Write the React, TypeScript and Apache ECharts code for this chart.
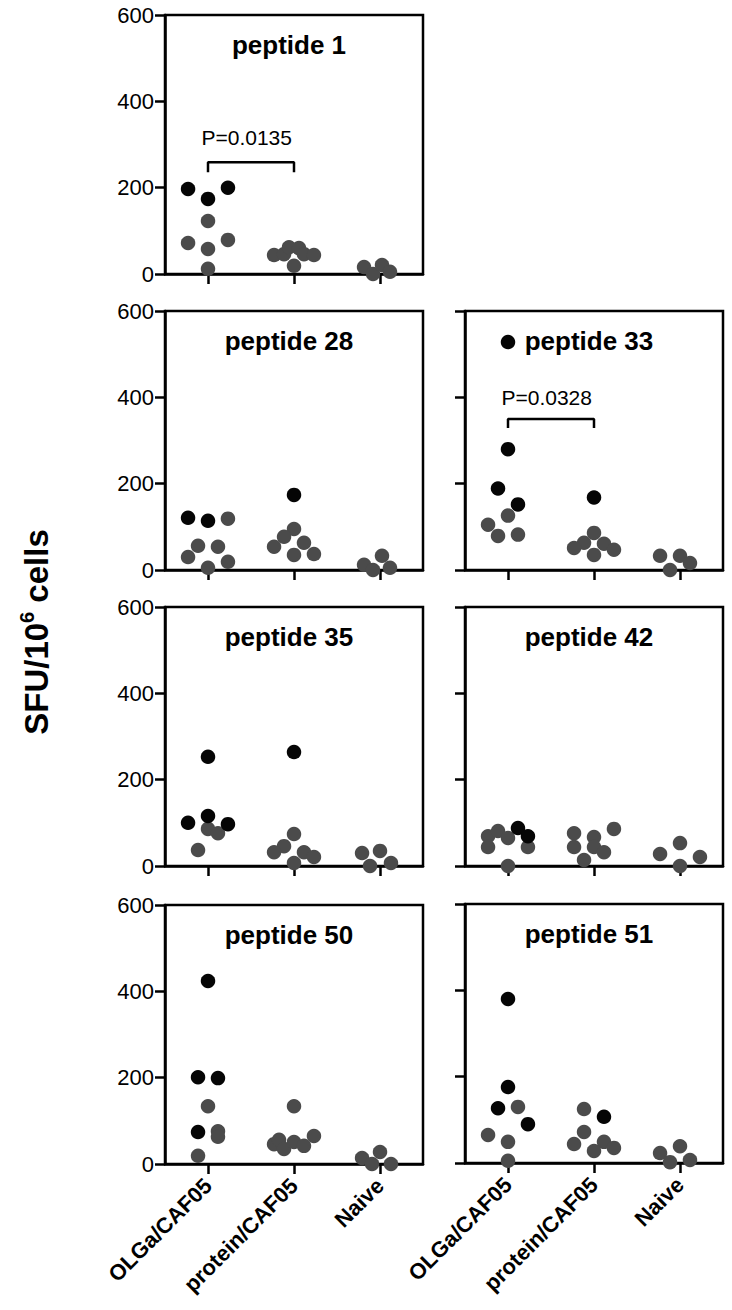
import { useEffect, useRef } from 'react';
import * as echarts from 'echarts';

// ---- categories & ticks ----
const groups = ['OLGa/CAF05', 'protein/CAF05', 'Naive'];
const yTickValues = [0, 200, 400, 600];
const panelTitles = ['peptide 1', 'peptide 28', 'peptide 33', 'peptide 35', 'peptide 42', 'peptide 50', 'peptide 51'];

// ---- data: [jitter step, SFU/10^6 cells, responder (1 = black)] ----
const pep1_OLGa = [[-2, 197, 1], [0, 174, 1], [2, 200, 1], [0, 123, 0], [-2, 72, 0], [2, 79, 0], [0, 58, 0], [0, 12, 0]];
const pep1_protein = [[-2, 44, 0], [-1, 46, 0], [-0.5, 62, 0], [0.5, 60, 0], [1, 46, 0], [2, 44, 0], [0, 19, 0]];
const pep1_Naive = [[-1.6, 16, 0], [-0.7, 0, 0], [0.2, 21, 0], [1, 5, 0]];

const pep28_OLGa = [[-2, 121, 1], [0, 114, 1], [2, 119, 0], [-1, 56, 0], [1, 54, 0], [-2, 30, 0], [2, 19, 0], [0, 5, 0]];
const pep28_protein = [[0, 174, 1], [0, 95, 0], [-1, 77, 0], [1, 63, 0], [-2, 54, 0], [0, 35, 0], [2, 37, 0]];
const pep28_Naive = [[-1.6, 12, 0], [-0.7, 0, 0], [0.2, 33, 0], [1, 5, 0]];

const pep33_OLGa = [[0, 528, 1], [0, 280, 1], [-1, 189, 1], [1, 152, 1], [0, 126, 0], [-2, 105, 0], [-1, 79, 0], [1, 82, 0]];
const pep33_protein = [[0, 168, 1], [0, 86, 0], [-1, 63, 0], [-2, 51, 0], [1, 61, 0], [2, 47, 0], [0, 35, 0]];
const pep33_Naive = [[-2, 33, 0], [0, 33, 0], [1, 16, 0], [-1, 0, 0]];

const pep35_OLGa = [[0, 253, 1], [0, 116, 1], [-2, 100, 1], [2, 97, 1], [0, 86, 0], [1, 76, 0], [-1, 37, 0]];
const pep35_protein = [[0, 264, 1], [0, 74, 0], [-1, 46, 0], [-2, 32, 0], [1, 32, 0], [2, 21, 0], [0, 7, 0]];
const pep35_Naive = [[-1.8, 30, 0], [0, 35, 0], [-1, 0, 0], [1.1, 7, 0]];

const pep42_OLGa = [[-2, 69, 0], [-1, 81, 0], [0, 65, 0], [1, 88, 1], [2, 69, 1], [-2, 44, 0], [2, 44, 0], [0, 0, 0]];
const pep42_protein = [[-2, 76, 0], [2, 86, 0], [0, 67, 0], [-2, 44, 0], [0, 44, 0], [1, 32, 0], [-1, 14, 0]];
const pep42_Naive = [[-2, 28, 0], [0, 53, 0], [2, 21, 0], [0, 0, 0]];

const pep50_OLGa = [[0, 424, 1], [-1, 201, 1], [1, 199, 1], [0, 134, 0], [-1, 74, 1], [1, 76, 0], [1, 63, 0], [-1, 19, 0]];
const pep50_protein = [[0, 134, 0], [-2, 46, 0], [-1.5, 56, 0], [-1, 35, 0], [0, 51, 0], [1, 42, 0], [2, 65, 0]];
const pep50_Naive = [[-1.8, 14, 0], [-0.8, 0, 0], [0, 28, 0], [1.1, 0, 0]];

const pep51_OLGa = [[0, 380, 1], [0, 176, 1], [-1, 127, 1], [1, 130, 0], [2, 90, 1], [-2, 65, 0], [0, 49, 0], [0, 5, 0]];
const pep51_protein = [[-1, 125, 0], [1, 107, 1], [-1, 72, 0], [-2, 44, 0], [1, 49, 0], [0, 28, 0], [2, 35, 0]];
const pep51_Naive = [[-2, 23, 0], [0, 39, 0], [1, 7, 0], [-1, 2, 0]];

// ---- significance annotations ----
const pValuePanels = [0, 2];
const pValueLabels = ['P=0.0135', 'P=0.0328'];
const pValueTextY = [317, 399];
const bracketTopY = [259, 350];
const bracketFootY = [236, 329];

const panelData = [
  [pep1_OLGa, pep1_protein, pep1_Naive],
  [pep28_OLGa, pep28_protein, pep28_Naive],
  [pep33_OLGa, pep33_protein, pep33_Naive],
  [pep35_OLGa, pep35_protein, pep35_Naive],
  [pep42_OLGa, pep42_protein, pep42_Naive],
  [pep50_OLGa, pep50_protein, pep50_Naive],
  [pep51_OLGa, pep51_protein, pep51_Naive],
];

// ---- layout (pixels) ----
const gridPos = [
  { left: 165, top: 15 },
  { left: 165, top: 311 },
  { left: 465, top: 311 },
  { left: 165, top: 607 },
  { left: 465, top: 607 },
  { left: 165, top: 905 },
  { left: 465, top: 904 },
];
const GRID_W = 258;
const GRID_H = 259;
const JITTER = 0.116;
const FONT = '"Liberation Sans", Arial, Helvetica, sans-serif';
const GRAY = '#4b4b4b';
const BLACK = '#050505';
const LW = 2.5;

function buildOption() {
  const grid: any[] = [];
  const xAxis: any[] = [];
  const yAxis: any[] = [];
  const series: any[] = [];
  const graphic: any[] = [];

  panelData.forEach((pGroups, i) => {
    const pos = gridPos[i];
    const leftCol = pos.left < 300;
    const bottomRow = i >= 5;
    grid.push({
      left: pos.left, top: pos.top, width: GRID_W, height: GRID_H,
      show: true, borderColor: '#000', borderWidth: LW, backgroundColor: 'transparent',
    });
    xAxis.push({
      type: 'category', gridIndex: i, data: groups, boundaryGap: true,
      axisLine: { show: true, onZero: false, lineStyle: { color: '#000', width: LW } },
      axisTick: { show: true, alignWithLabel: true, length: 10, lineStyle: { color: '#000', width: LW } },
      axisLabel: {
        show: bottomRow, rotate: 45, interval: 0, margin: 18,
        fontSize: 22, fontWeight: 'bold', color: '#000', fontFamily: FONT,
      },
      splitLine: { show: false },
    });
    xAxis.push({
      type: 'value', gridIndex: i, min: -0.5, max: 2.5, show: false,
      axisLine: { show: false, onZero: false }, axisTick: { show: false }, axisLabel: { show: false },
      splitLine: { show: false },
    });
    yAxis.push({
      type: 'value', gridIndex: i, min: yTickValues[0], max: yTickValues[yTickValues.length - 1], interval: 200,
      axisLine: { show: true, onZero: false, lineStyle: { color: '#000', width: LW } },
      axisTick: { show: true, length: 10, lineStyle: { color: '#000', width: LW } },
      axisLabel: { show: leftCol, fontSize: 22, color: '#000', fontFamily: FONT, margin: 11 },
      splitLine: { show: false },
    });

    [0, 1].forEach((flag) => {
      const data: number[][] = [];
      pGroups.forEach((g, gi) => {
        g.forEach((p) => {
          if (p[2] === flag) data.push([gi + p[0] * JITTER, p[1]]);
        });
      });
      series.push({
        type: 'scatter', xAxisIndex: 2 * i + 1, yAxisIndex: i, data,
        symbol: 'circle', symbolSize: 14.5, clip: false,
        itemStyle: { color: flag ? BLACK : GRAY, opacity: 1 },
        z: 3 + flag,
      });
    });

    graphic.push({
      type: 'text', x: pos.left + GRID_W / 2 - 5, y: pos.top + 30,
      style: {
        text: panelTitles[i], fontSize: 26, fontWeight: 'bold', fontFamily: FONT, fill: '#000',
        textAlign: 'center', textVerticalAlign: 'middle',
      },
    });
  });

  pValuePanels.forEach((pi, k) => {
    series.push({
      type: 'line', xAxisIndex: 2 * pi + 1, yAxisIndex: pi,
      data: [[0, bracketFootY[k]], [0, bracketTopY[k]], [1, bracketTopY[k]], [1, bracketFootY[k]]],
      symbol: 'none', lineStyle: { color: '#000', width: 2.5 }, z: 2,
    });
    series.push({
      type: 'scatter', xAxisIndex: 2 * pi + 1, yAxisIndex: pi,
      data: [[0.45, pValueTextY[k]]], symbolSize: 1,
      itemStyle: { color: 'rgba(0,0,0,0)' },
      label: {
        show: true, position: 'inside', formatter: pValueLabels[k],
        fontSize: 21, color: '#000', fontFamily: FONT, textBorderWidth: 0, opacity: 1,
      },
      z: 2,
    });
  });

  graphic.push({
    type: 'text', x: 36, y: 632, rotation: Math.PI / 2,
    style: {
      text: '{a|SFU/10}{s|6}{a| cells}',
      textAlign: 'center', textVerticalAlign: 'middle', fill: '#000',
      rich: {
        a: { fontSize: 33, fontWeight: 'bold', fontFamily: FONT, fill: '#000', lineHeight: 38 },
        s: { fontSize: 20, fontWeight: 'bold', fontFamily: FONT, fill: '#000', verticalAlign: 'top', lineHeight: 38 },
      },
    },
  });

  return { animation: false, backgroundColor: '#fff', grid, xAxis, yAxis, series, graphic };
}

export default function App() {
  const ref = useRef<HTMLDivElement>(null);
  useEffect(() => {
    if (!ref.current) return;
    const chart = echarts.init(ref.current, undefined, { renderer: 'svg' });
    chart.setOption(buildOption() as any);
    return () => chart.dispose();
  }, []);
  return (
    <div
      ref={ref}
      style={{ position: 'absolute', left: 0, top: 0, width: 732, height: 1310, background: '#fff' }}
    />
  );
}
